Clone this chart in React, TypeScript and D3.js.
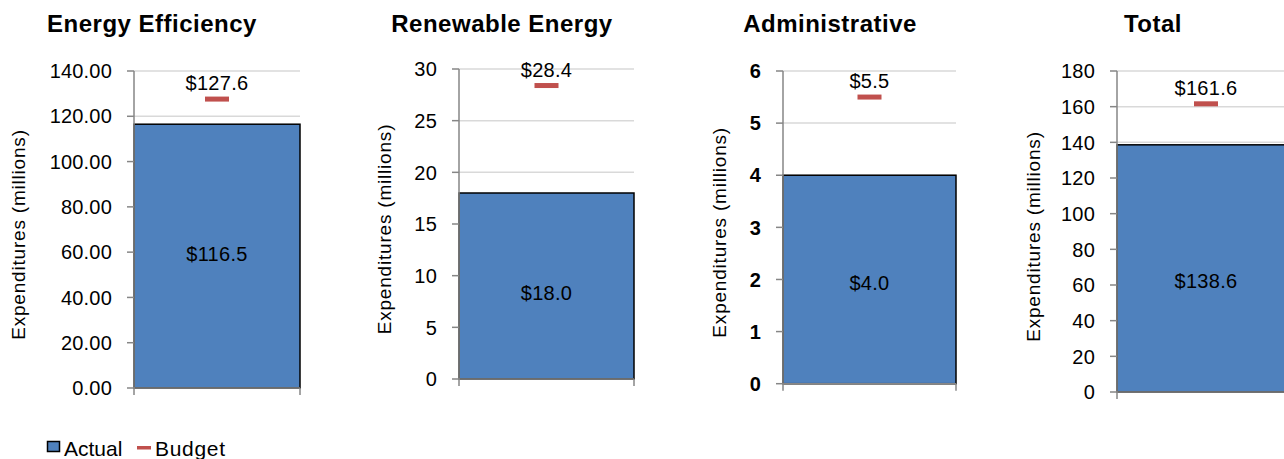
import React from "react";
import * as d3 from "d3";

// Program spending, actual vs. budget, in millions of dollars
const panelTitles = ["Energy Efficiency", "Renewable Energy", "Administrative", "Total"];
const actualValues = [116.5, 18.0, 4.0, 138.6];
const budgetValues = [127.6, 28.4, 5.5, 161.6];
const axisMax = [140, 30, 6, 180];
const axisStep = [20, 5, 1, 20];
const tickDecimals = [2, 0, 0, 0];
const boldTicks = [false, false, true, false];
const yAxisTitle = "Expenditures (millions)";
const legendLabels = ["Actual", "Budget"];

// Frame of each small chart
const frames = [
  { left: 134, right: 300, top: 71, bottom: 388, titleX: 152, yTitleX: 25, labelNudge: -2 },
  { left: 459, right: 634, top: 69, bottom: 379, titleX: 502, yTitleX: 391, labelNudge: 7 },
  { left: 783, right: 956, top: 71, bottom: 383.7, titleX: 830, yTitleX: 726, labelNudge: 3 },
  { left: 1117, right: 1295, top: 71, bottom: 392, titleX: 1153, yTitleX: 1040, labelNudge: 12 },
];

const FONT = "'Liberation Sans', Arial, sans-serif";
const BLUE = "#4f81bd";
const RED = "#c0504d";
const AXIS = "#868686";
const GRID = "#d9d9d9";

function Panel({ i }: { i: number }) {
  const f = frames[i];
  const y = d3.scaleLinear().domain([0, axisMax[i]]).range([f.bottom, f.top]);
  const x = d3.scaleBand<string>().domain([panelTitles[i]]).range([f.left, f.right]).padding(0);
  const ticks = d3.range(0, axisMax[i] + axisStep[i] / 2, axisStep[i]);
  const fmt = d3.format(`.${tickDecimals[i]}f`);
  const money = d3.format("$.1f");
  const bx = x(panelTitles[i]) as number;
  const bw = x.bandwidth();
  const cx = bx + bw / 2;
  const yTop = y(actualValues[i]);
  const yBudget = y(budgetValues[i]);
  const markerW = 24;
  const midY = (f.top + f.bottom) / 2;

  return (
    <g>
      <text x={f.titleX} y={32} textAnchor="middle" fontFamily={FONT} fontWeight="bold"
        fontSize={24} letterSpacing={0.5} fill="#000">{panelTitles[i]}</text>

      {ticks.map((t) => (
        <line key={`g${t}`} x1={f.left} x2={f.right} y1={y(t)} y2={y(t)} stroke={GRID} strokeWidth={1.5} />
      ))}

      <rect x={bx} y={yTop} width={bw} height={f.bottom - yTop} fill={BLUE} stroke="#000" strokeWidth={1.5} />

      {/* y axis */}
      <line x1={f.left} x2={f.left} y1={f.top} y2={f.bottom} stroke={AXIS} strokeWidth={1.5} />
      {ticks.map((t) => (
        <g key={`t${t}`}>
          <line x1={f.left - 7} x2={f.left} y1={y(t)} y2={y(t)} stroke={AXIS} strokeWidth={1.5} />
          <text x={f.left - 22} y={y(t)} dy="0.36em" textAnchor="end" fontFamily={FONT}
            fontSize={20} letterSpacing={0.2} fontWeight={boldTicks[i] ? "bold" : "normal"} fill="#000">
            {fmt(t)}
          </text>
        </g>
      ))}

      {/* x axis */}
      <line x1={f.left} x2={f.right} y1={f.bottom} y2={f.bottom} stroke={AXIS} strokeWidth={1.5} />
      <line x1={f.left} x2={f.left} y1={f.bottom} y2={f.bottom + 7} stroke={AXIS} strokeWidth={1.5} />
      <line x1={f.right} x2={f.right} y1={f.bottom} y2={f.bottom + 7} stroke={AXIS} strokeWidth={1.5} />

      {/* budget marker */}
      <rect x={cx - markerW / 2} y={yBudget - 2.5} width={markerW} height={5} fill={RED} />
      <text x={cx} y={yBudget - 9} textAnchor="middle" fontFamily={FONT} fontSize={20}
        letterSpacing={0.3} fill="#000">{money(budgetValues[i])}</text>

      {/* actual value label */}
      <text x={cx} y={(yTop + f.bottom) / 2 + f.labelNudge} dy="0.36em" textAnchor="middle"
        fontFamily={FONT} fontSize={20} letterSpacing={0.3} fill="#000">{money(actualValues[i])}</text>

      <text transform={`translate(${f.yTitleX},${midY + 5}) rotate(-90)`} textAnchor="middle"
        fontFamily={FONT} fontSize={19} letterSpacing={0.8} fill="#000">{yAxisTitle}</text>
    </g>
  );
}

export default function App() {
  return (
    <svg width={1284} height={459} viewBox="0 0 1284 459"
      style={{ position: "absolute", left: 0, top: 0, display: "block", background: "#fff" }}>
      <rect x={0} y={0} width={1284} height={459} fill="#fff" />
      {frames.map((_, i) => <Panel key={i} i={i} />)}

      {/* legend */}
      <rect x={47.5} y={441.5} width={12} height={10} fill={BLUE} stroke="#000" strokeWidth={1.5} />
      <text x={64} y={455.5} fontFamily={FONT} fontSize={21} fill="#000">{legendLabels[0]}</text>
      <rect x={137} y={446} width={14} height={3.5} fill={RED} />
      <text x={155} y={455.5} fontFamily={FONT} fontSize={21} letterSpacing={0.7} fill="#000">{legendLabels[1]}</text>
    </svg>
  );
}
